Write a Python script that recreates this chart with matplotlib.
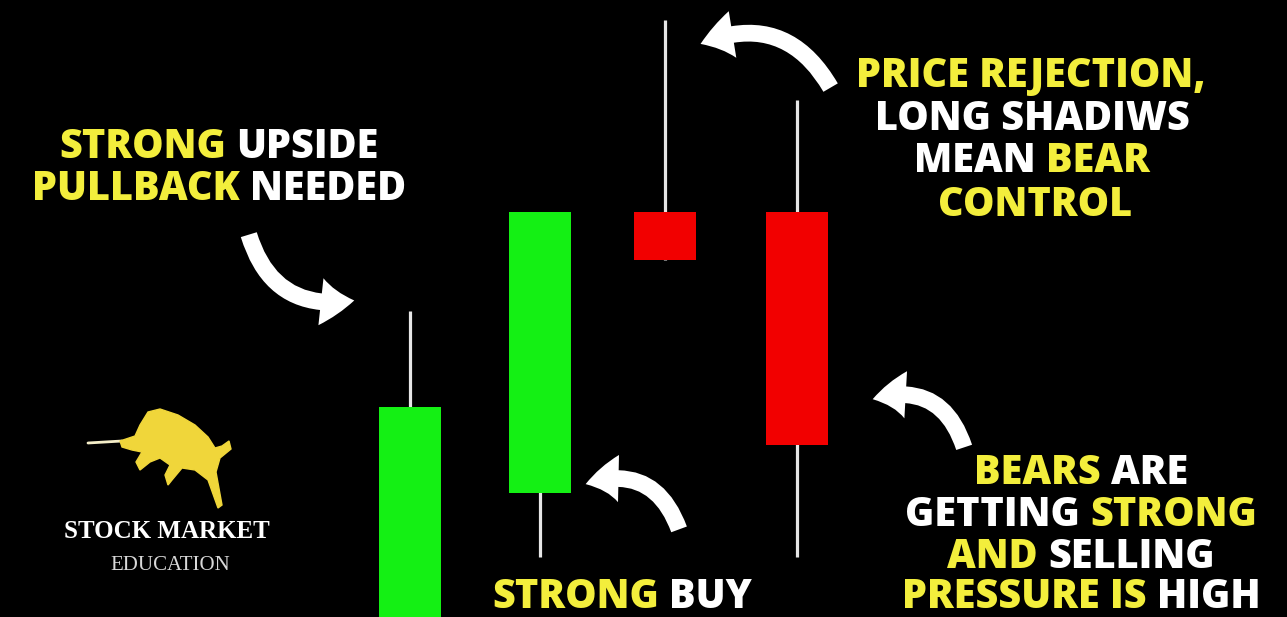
import matplotlib
matplotlib.use("Agg")
import matplotlib.pyplot as plt
from matplotlib.patches import FancyArrowPatch, Polygon

W, H = 1287, 617
YELLOW = "#f3ee3c"
WHITE = "#ffffff"
GREEN = "#14f014"
RED = "#f20000"

# candles (price scale 0..100, x in pixels)
xs = [410, 540, 665, 797]
opens = [-5, 20.1, 65.6, 65.6]
highs = [49.6, 65.6, 96.8, 83.8]
lows = [-5, 9.7, 57.9, 9.7]
closes = [34.0, 65.6, 57.9, 27.9]
body_w = 62

fig = plt.figure(figsize=(12.87, 6.17), dpi=100, facecolor="black")
ax = fig.add_axes([0, 0, 1, 1])
ax.set_facecolor("black")
ax.set_xlim(0, W)
ax.set_ylim(0, 100)
ax.axis("off")

for x, o, h, l, c in zip(xs, opens, highs, lows, closes):
    col = GREEN if c >= o else RED
    ax.vlines(x, l, h, color="#e6e6e6", lw=2.3, zorder=1, capstyle="butt")
    ax.bar(x, abs(c - o), width=body_w, bottom=min(o, c), color=col, zorder=2)

# overlay in pixel coords (y down) for text, arrows, logo
tx = fig.add_axes([0, 0, 1, 1])
tx.set_xlim(0, W)
tx.set_ylim(H, 0)
tx.axis("off")
tx.patch.set_alpha(0)

FONT = dict(family="Open Sans", fontweight=800, fontsize=28.5)


def line(parts, cx, cy, **kw):
    style = dict(FONT)
    style.update(kw)
    texts = [tx.text(0, cy, s, color=c, va="center", ha="left", **style) for s, c in parts]
    sp = tx.text(0, -100, "A A", **style)
    sp2 = tx.text(0, -100, "AA", **style)
    fig.canvas.draw()
    r = fig.canvas.get_renderer()
    space = sp.get_window_extent(r).width - sp2.get_window_extent(r).width
    sp.remove()
    sp2.remove()
    widths = [t.get_window_extent(r).width for t in texts]
    total = sum(widths) + space * (len(texts) - 1)
    x = cx - total / 2
    for t, w in zip(texts, widths):
        t.set_x(x)
        x += w + space


line([("STRONG", YELLOW), ("UPSIDE", WHITE)], 219, 148)
line([("PULLBACK", YELLOW), ("NEEDED", WHITE)], 219, 190)

line([("PRICE REJECTION,", YELLOW)], 1031, 77)
line([("LONG SHADIWS", WHITE)], 1032, 120)
line([("MEAN", WHITE), ("BEAR", YELLOW)], 1032, 162)
line([("CONTROL", YELLOW)], 1035, 205)

line([("BEARS", YELLOW), ("ARE", WHITE)], 1081, 473)
line([("GETTING", WHITE), ("STRONG", YELLOW)], 1081, 515)
line([("AND", YELLOW), ("SELLING", WHITE)], 1081, 557)
line([("PRESSURE IS", YELLOW), ("HIGH", WHITE)], 1081, 598)

line([("STRONG", YELLOW), ("BUY", WHITE)], 622, 598)

# curved arrows
arrows = [((248, 232), (357, 300), 0.45),
          ((832, 90), (698, 45), 0.45),
          ((680, 532), (583, 485), 0.5),
          ((965, 450), (870, 400), 0.5)]
for a, b, rad in arrows:
    tx.add_patch(FancyArrowPatch(a, b, connectionstyle=f"arc3,rad={rad}",
                                 arrowstyle="simple,head_length=24,head_width=34,tail_width=12",
                                 color=WHITE, lw=0, zorder=5))

# logo
bull = [(120, 441), (135, 436), (140, 425), (148, 412), (160, 409), (178, 415), (195, 425),
        (208, 437), (215, 448), (222, 446), (229, 441), (231, 449), (220, 458), (216, 472),
        (222, 505), (218, 508), (208, 480), (195, 470), (182, 468), (172, 480), (168, 485),
        (165, 475), (170, 465), (160, 458), (150, 462), (140, 470), (136, 462), (142, 452),
        (132, 450), (122, 447)]
tx.add_patch(Polygon(bull, closed=True, color="#f0d63a", zorder=3))
tx.plot([88, 122], [443, 441], color="#f5eec8", lw=2, solid_capstyle="round")
tx.text(167, 531, "STOCK MARKET", color=WHITE, family="Liberation Serif", fontweight="bold",
        fontsize=18, ha="center", va="center")
tx.text(170, 566, "EDUCATION", color="#d8d8d8", family="Liberation Serif",
        fontsize=15, ha="center", va="center")

fig.savefig("out.png", dpi=100, facecolor="black")
